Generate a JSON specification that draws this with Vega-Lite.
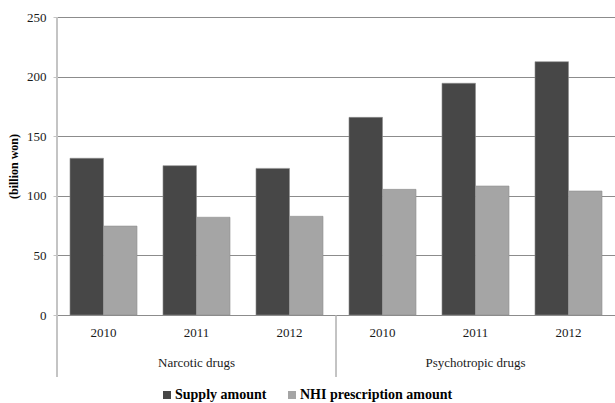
{
  "$schema": "https://vega.github.io/schema/vega-lite/v6.json",
  "width": 558,
  "height": 298,
  "autosize": {"type": "none"},
  "padding": {"left": 57, "top": 17, "right": 0, "bottom": 88},
  "config": {
    "view": {"stroke": null},
    "font": "'Liberation Serif', 'Times New Roman', serif",
    "axis": {"labelFont": "'Liberation Serif', 'Times New Roman', serif", "titleFont": "'Liberation Serif', 'Times New Roman', serif", "labelColor": "#1a1a1a", "titleColor": "#000000"}
  },
  "datasets": {
    "amounts": [
      {"key": "N2010", "group": "Narcotic drugs", "year": "2010", "series": "Supply amount", "value": 131.5},
      {"key": "N2010", "group": "Narcotic drugs", "year": "2010", "series": "NHI prescription amount", "value": 74.6},
      {"key": "N2011", "group": "Narcotic drugs", "year": "2011", "series": "Supply amount", "value": 125.3},
      {"key": "N2011", "group": "Narcotic drugs", "year": "2011", "series": "NHI prescription amount", "value": 82.0},
      {"key": "N2012", "group": "Narcotic drugs", "year": "2012", "series": "Supply amount", "value": 123.0},
      {"key": "N2012", "group": "Narcotic drugs", "year": "2012", "series": "NHI prescription amount", "value": 82.8},
      {"key": "P2010", "group": "Psychotropic drugs", "year": "2010", "series": "Supply amount", "value": 165.8},
      {"key": "P2010", "group": "Psychotropic drugs", "year": "2010", "series": "NHI prescription amount", "value": 105.4},
      {"key": "P2011", "group": "Psychotropic drugs", "year": "2011", "series": "Supply amount", "value": 194.4},
      {"key": "P2011", "group": "Psychotropic drugs", "year": "2011", "series": "NHI prescription amount", "value": 108.2},
      {"key": "P2012", "group": "Psychotropic drugs", "year": "2012", "series": "Supply amount", "value": 212.5},
      {"key": "P2012", "group": "Psychotropic drugs", "year": "2012", "series": "NHI prescription amount", "value": 104.0}
    ],
    "groups": [
      {"mid": "N2011", "label": "Narcotic drugs"},
      {"mid": "P2011", "label": "Psychotropic drugs"}
    ]
  },
  "layer": [
    {
      "data": {"name": "amounts"},
      "mark": {"type": "bar", "stroke": "#8f8f8f", "strokeWidth": 0.6},
      "encoding": {
        "x": {
          "field": "key",
          "type": "nominal",
          "sort": ["N2010", "N2011", "N2012", "P2010", "P2011", "P2012"],
          "scale": {"paddingInner": 0, "paddingOuter": 0},
          "axis": {
            "title": null,
            "labelExpr": "substring(datum.value, 1)",
            "labelAngle": 0,
            "labelFontSize": 13,
            "labelPadding": 11,
            "domain": false,
            "ticks": false,
            "grid": false
          }
        },
        "xOffset": {
          "field": "series",
          "type": "nominal",
          "sort": ["Supply amount", "NHI prescription amount"],
          "scale": {"paddingInner": 0, "paddingOuter": 0.388}
        },
        "y": {
          "field": "value",
          "type": "quantitative",
          "scale": {"domain": [0, 250], "nice": false},
          "axis": {
            "title": "(billion won)",
            "titleFontSize": 12,
            "titleFontWeight": "bold",
            "titlePadding": 6,
            "values": [0, 50, 100, 150, 200, 250],
            "labelFontSize": 13,
            "labelPadding": 7,
            "domain": false,
            "tickSize": 4,
            "tickColor": "#c4c4c4",
            "grid": true,
            "gridColor": "#8c8c8c",
            "gridWidth": 1,
            "gridOpacity": 1
          }
        },
        "color": {
          "field": "series",
          "type": "nominal",
          "sort": ["Supply amount", "NHI prescription amount"],
          "scale": {"range": ["#474747", "#a5a5a5"]},
          "legend": {
            "title": null,
            "orient": "none",
            "direction": "horizontal",
            "legendX": 103,
            "legendY": 371,
            "symbolType": "square",
            "symbolSize": 64,
            "symbolStrokeWidth": 0,
            "labelFont": "'Liberation Serif', 'Times New Roman', serif",
            "labelFontSize": 14,
            "labelFontWeight": "bold",
            "labelColor": "#000000",
            "labelOffset": 1,
            "columnPadding": 18
          }
        }
      }
    },
    {
      "data": {"name": "groups"},
      "mark": {"type": "rule", "color": "#c4c4c4", "strokeWidth": 2},
      "encoding": {
        "x": {"datum": "N2010", "bandPosition": 0},
        "y": {"datum": 250},
        "y2": {"datum": -52}
      }
    },
    {
      "data": {"name": "groups"},
      "mark": {"type": "rule", "color": "#b0b0b0", "strokeWidth": 1},
      "encoding": {
        "x": {"datum": "N2012", "bandPosition": 1},
        "y": {"datum": 0},
        "y2": {"datum": -52}
      }
    },
    {
      "data": {"name": "groups"},
      "mark": {"type": "text", "font": "'Liberation Serif', 'Times New Roman', serif", "fontSize": 13, "color": "#1a1a1a", "baseline": "middle", "dy": 48},
      "encoding": {
        "x": {"field": "mid", "type": "nominal"},
        "y": {"datum": 0},
        "text": {"field": "label"}
      }
    }
  ]
}
